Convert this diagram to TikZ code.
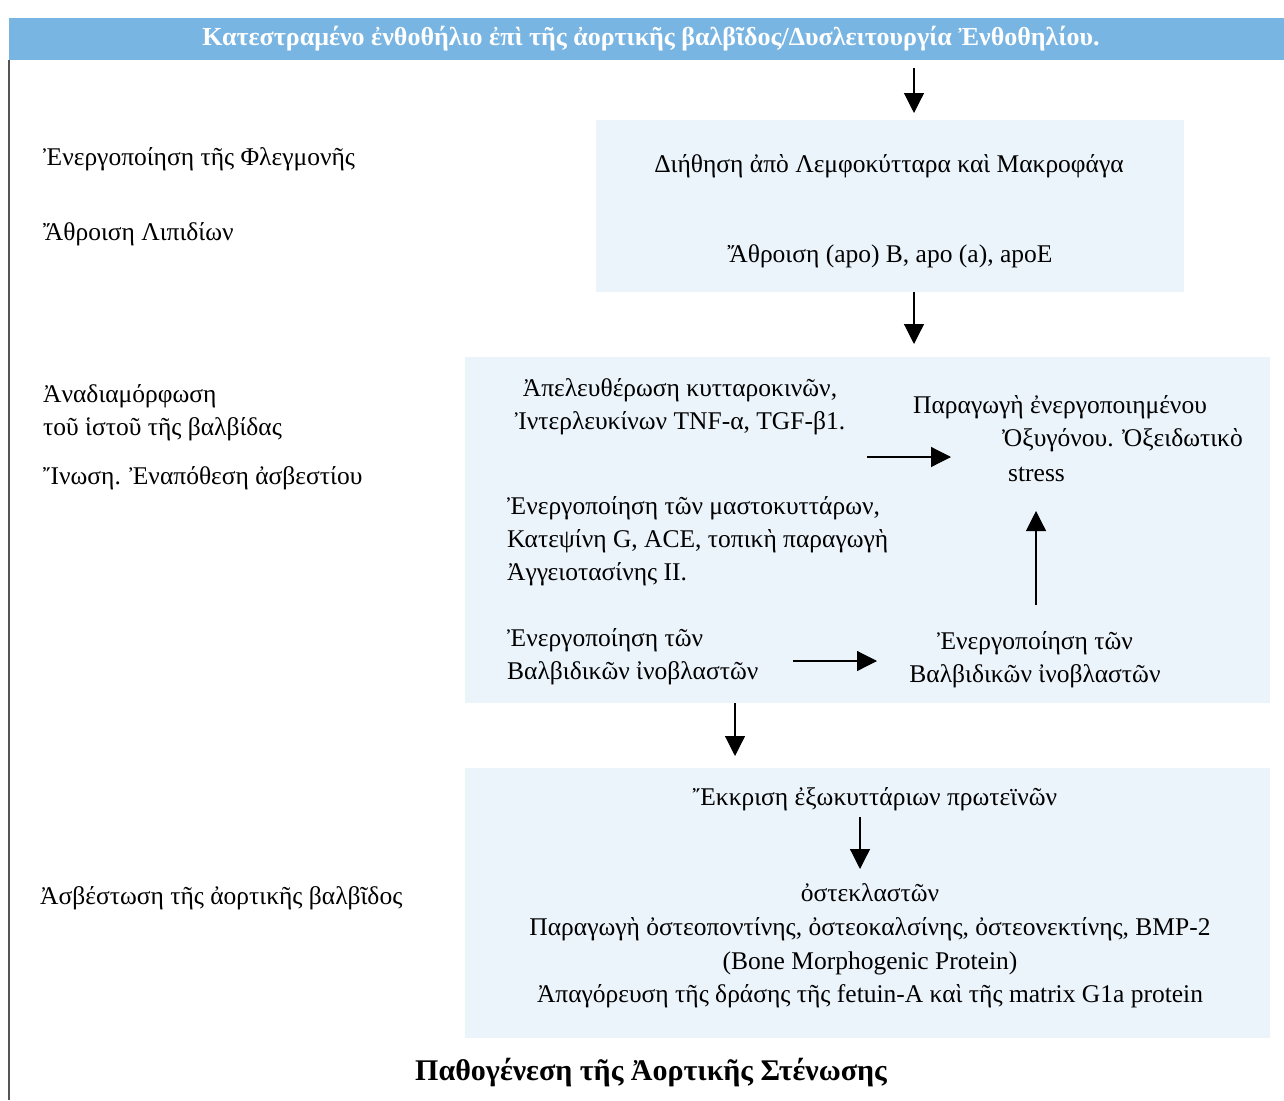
\documentclass[tikz,border=0pt]{standalone}
\usepackage{fontspec}
\setmainfont{Liberation Serif}
\usetikzlibrary{arrows.meta}
\definecolor{banner}{HTML}{78B5E2}
\definecolor{boxfill}{HTML}{EBF3FB}
\definecolor{frameline}{HTML}{555555}
\tikzset{
  txt/.style={inner sep=0pt, font=\fontsize{25.5}{33}\selectfont, text=black},
  panel/.style={fill=boxfill, draw=none},
  arr/.style={line width=1.2pt, -{Triangle[length=20pt,width=20pt]}},
}
\begin{document}
\begin{tikzpicture}[x=1pt,y=-1pt]
\useasboundingbox (0,0) rectangle (1284,1100);
\fill[white] (0,0) rectangle (1284,1100);
% banner
\fill[banner] (9,18) rectangle (1284,60);
\node[inner sep=0pt, font=\fontsize{26}{28}\selectfont\bfseries, text=white] (banner) at (651,39) {Κατεστραμένο ἐνθοθήλιο ἐπὶ τῆς ἀορτικῆς βαλβῖδος/Δυσλειτουργία Ἐνθοθηλίου.};
\draw[frameline, line width=1.3pt] (9,60) -- (9,1100);
% panels
\fill[boxfill] (596,120) rectangle (1184,292);
\fill[boxfill] (465,357) rectangle (1270,703);
\fill[boxfill] (465,768) rectangle (1270,1038);
% left labels
\node[txt, anchor=west] (l1) at (43,159) {Ἐνεργοποίηση τῆς Φλεγμονῆς};
\node[txt, anchor=west] (l2) at (43,234) {Ἄθροιση Λιπιδίων};
\node[txt, anchor=west, align=left] (l3) at (43,413) {Ἀναδιαμόρφωση\\τοῦ ἱστοῦ τῆς βαλβίδας};
\node[txt, anchor=west] (l4) at (43,478) {Ἴνωση. Ἐναπόθεση ἀσβεστίου};
\node[txt, anchor=west] (l5) at (40,898) {Ἀσβέστωση τῆς ἀορτικῆς βαλβῖδος};
% box 1
\node[txt] (b1a) at (889,166) {Διήθηση ἀπὸ Λεμφοκύτταρα καὶ Μακροφάγα};
\node[txt] (b1b) at (890,256) {Ἄθροιση (apo) B, apo (a), apoE};
% box 2
\node[txt, align=center] (cyto) at (680,407) {Ἀπελευθέρωση κυτταροκινῶν,\\Ἰντερλευκίνων TNF-α, TGF-β1.};
\node[txt, anchor=west] (ox1) at (913,407) {Παραγωγὴ ἐνεργοποιημένου};
\node[txt, anchor=west] (ox2) at (1002,440) {Ὀξυγόνου. Ὀξειδωτικὸ};
\node[txt, anchor=west] (ox3) at (1008,474) {stress};
\node[txt, anchor=west, align=left] (mast) at (507,541) {Ἐνεργοποίηση τῶν μαστοκυττάρων,\\Κατεψίνη G, ACE, τοπικὴ παραγωγὴ\\Ἀγγειοτασίνης II.};
\node[txt, anchor=west, align=left] (fib1) at (507,657) {Ἐνεργοποίηση τῶν\\Βαλβιδικῶν ἰνοβλαστῶν};
\node[txt, align=center] (fib2) at (1035,660) {Ἐνεργοποίηση τῶν\\Βαλβιδικῶν ἰνοβλαστῶν};
% box 3
\node[txt] (sec) at (875,799) {Ἔκκριση ἐξωκυττάριων πρωτεϊνῶν};
\node[txt, align=center, font=\fontsize{25.5}{33.6}\selectfont] (osteo) at (870,946) {ὀστεκλαστῶν\\Παραγωγὴ ὀστεοποντίνης, ὀστεοκαλσίνης, ὀστεονεκτίνης, BMP-2\\(Bone Morphogenic Protein)\\Ἀπαγόρευση τῆς δράσης τῆς fetuin-A καὶ τῆς matrix G1a protein};
% title
\node[inner sep=0pt, font=\fontsize{30}{32}\selectfont\bfseries] (title) at (651,1073) {Παθογένεση τῆς Ἀορτικῆς Στένωσης};
% arrow coordinates
\coordinate (a1s) at (914,68);  \coordinate (a1e) at (914,113);
\coordinate (a2s) at (914,292); \coordinate (a2e) at (914,344);
\coordinate (a3s) at (735,703); \coordinate (a3e) at (735,756);
\coordinate (a4s) at (867,457); \coordinate (a4e) at (951,457);
\coordinate (a5s) at (1036,605); \coordinate (a5e) at (1036,511);
\coordinate (a6s) at (793,661); \coordinate (a6e) at (877,661);
\coordinate (a7s) at (860,817); \coordinate (a7e) at (860,869);
\draw[arr] (a1s) -- (a1e);
\draw[arr] (a2s) -- (a2e);
\draw[arr] (a3s) -- (a3e);
\draw[arr] (a4s) -- (a4e);
\draw[arr] (a5s) -- (a5e);
\draw[arr] (a6s) -- (a6e);
\draw[arr] (a7s) -- (a7e);
\end{tikzpicture}
\end{document}
